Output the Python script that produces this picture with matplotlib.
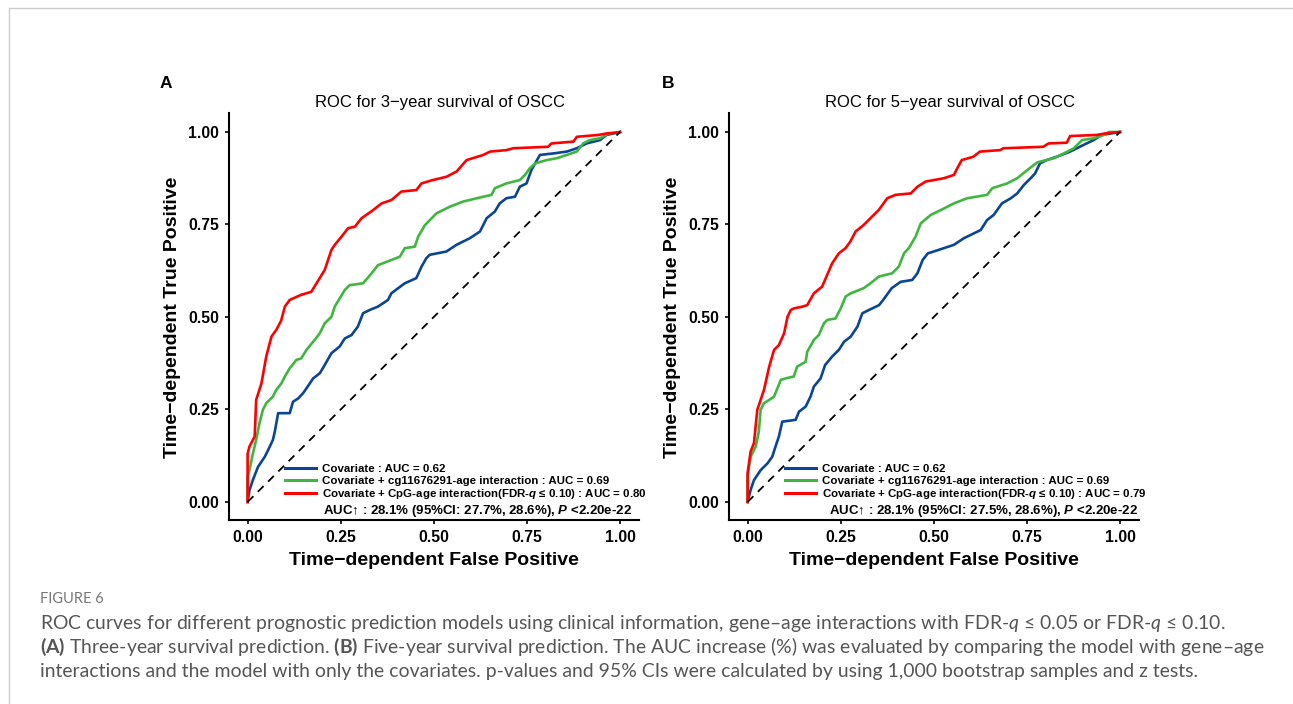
import numpy as np
import matplotlib
matplotlib.use("Agg")
import matplotlib.pyplot as plt
from matplotlib.lines import Line2D

plt.rcParams["font.family"] = ["Liberation Sans", "DejaVu Sans"]
plt.rcParams["mathtext.fontset"] = "custom"
plt.rcParams["mathtext.it"] = "Lato:italic"
plt.rcParams["mathtext.bf"] = "Lato:bold"
plt.rcParams["mathtext.bfit"] = "Liberation Sans:italic:bold"
plt.rcParams["mathtext.rm"] = "Lato"

# ---- 3-year ROC (panel A) ----
fpr_a_cov = [0, 0.005, 0.014, 0.028, 0.046, 0.055, 0.068, 0.073, 0.082, 0.113, 0.122, 0.136, 0.149, 0.158,
             0.176, 0.194, 0.207, 0.225, 0.247, 0.261, 0.279, 0.296, 0.31, 0.328, 0.35, 0.377, 0.386, 0.422,
             0.453, 0.467, 0.48, 0.489, 0.534, 0.561, 0.597, 0.624, 0.642, 0.664, 0.677, 0.695, 0.718, 0.731,
             0.749, 0.762, 0.772, 0.785, 0.821, 0.857, 0.884, 0.91, 0.946, 0.964, 1]
tpr_a_cov = [0, 0.032, 0.059, 0.095, 0.122, 0.14, 0.168, 0.19, 0.24, 0.24, 0.271, 0.28, 0.294, 0.307,
             0.334, 0.348, 0.37, 0.402, 0.42, 0.442, 0.451, 0.474, 0.51, 0.519, 0.528, 0.546, 0.564, 0.591,
             0.605, 0.636, 0.659, 0.668, 0.677, 0.695, 0.713, 0.731, 0.767, 0.785, 0.807, 0.821, 0.825, 0.852,
             0.861, 0.897, 0.915, 0.938, 0.942, 0.947, 0.956, 0.969, 0.978, 0.992, 1]

fpr_a_cg = [0, 0, 0.005, 0.014, 0.023, 0.032, 0.041, 0.05, 0.068, 0.077, 0.091, 0.1, 0.113, 0.131, 0.144,
            0.158, 0.18, 0.194, 0.207, 0.225, 0.234, 0.261, 0.274, 0.31, 0.333, 0.35, 0.386, 0.409, 0.422,
            0.449, 0.458, 0.476, 0.507, 0.543, 0.579, 0.624, 0.655, 0.664, 0.695, 0.731, 0.745, 0.758, 0.772,
            0.803, 0.83, 0.857, 0.884, 0.901, 0.919, 0.946, 0.969, 1]
tpr_a_cg = [0, 0.068, 0.086, 0.13, 0.168, 0.213, 0.249, 0.267, 0.285, 0.303, 0.321, 0.339, 0.361, 0.384, 0.388,
            0.411, 0.438, 0.456, 0.483, 0.5, 0.528, 0.573, 0.586, 0.591, 0.618, 0.64, 0.654, 0.663, 0.686,
            0.69, 0.717, 0.748, 0.78, 0.798, 0.812, 0.823, 0.83, 0.848, 0.861, 0.87, 0.884, 0.902, 0.915,
            0.924, 0.929, 0.938, 0.947, 0.969, 0.978, 0.983, 0.996, 1]

fpr_a_cpg = [0, 0, 0, 0.005, 0.019, 0.023, 0.037, 0.05, 0.064, 0.077, 0.09, 0.1, 0.113, 0.144, 0.171, 0.185,
             0.207, 0.225, 0.234, 0.252, 0.27, 0.288, 0.306, 0.332, 0.36, 0.386, 0.413, 0.453, 0.467, 0.497,
             0.534, 0.561, 0.588, 0.633, 0.651, 0.695, 0.713, 0.807, 0.816, 0.875, 0.884, 0.942, 0.964, 0.99, 1]
tpr_a_cpg = [0, 0.078, 0.13, 0.15, 0.177, 0.276, 0.32, 0.393, 0.447, 0.465, 0.49, 0.528, 0.546, 0.56, 0.568, 0.591,
             0.627, 0.681, 0.695, 0.717, 0.74, 0.744, 0.767, 0.785, 0.807, 0.816, 0.839, 0.843, 0.861, 0.87,
             0.879, 0.893, 0.924, 0.938, 0.947, 0.951, 0.956, 0.96, 0.969, 0.974, 0.987, 0.992, 0.996, 0.998, 1]

# ---- 5-year ROC (panel B) ----
fpr_b_cov = [0, 0.008, 0.017, 0.035, 0.053, 0.066, 0.075, 0.084, 0.093, 0.129, 0.138, 0.156, 0.169, 0.178,
             0.196, 0.208, 0.227, 0.245, 0.259, 0.277, 0.295, 0.308, 0.326, 0.353, 0.364, 0.387, 0.411, 0.442,
             0.456, 0.47, 0.484, 0.5, 0.554, 0.581, 0.626, 0.643, 0.661, 0.683, 0.707, 0.724, 0.742, 0.76,
             0.772, 0.785, 0.803, 0.83, 0.866, 0.902, 0.929, 0.951, 1]
tpr_b_cov = [0, 0.032, 0.059, 0.086, 0.104, 0.122, 0.15, 0.177, 0.217, 0.222, 0.244, 0.258, 0.285, 0.312,
             0.334, 0.37, 0.393, 0.411, 0.433, 0.447, 0.474, 0.51, 0.519, 0.532, 0.546, 0.578, 0.595, 0.6,
             0.618, 0.654, 0.672, 0.677, 0.695, 0.713, 0.735, 0.762, 0.776, 0.807, 0.821, 0.834, 0.857, 0.875,
             0.888, 0.915, 0.924, 0.933, 0.947, 0.965, 0.978, 0.992, 1]

fpr_b_cg = [0, 0, 0.008, 0.022, 0.03, 0.035, 0.044, 0.058, 0.071, 0.08, 0.089, 0.102, 0.124, 0.133, 0.156,
            0.16, 0.178, 0.191, 0.205, 0.214, 0.236, 0.25, 0.263, 0.277, 0.312, 0.33, 0.352, 0.388, 0.406,
            0.42, 0.433, 0.451, 0.465, 0.492, 0.519, 0.554, 0.59, 0.643, 0.657, 0.697, 0.724, 0.751, 0.778,
            0.822, 0.849, 0.876, 0.898, 0.929, 0.957, 0.971, 1]
tpr_b_cg = [0, 0.072, 0.122, 0.15, 0.19, 0.249, 0.267, 0.276, 0.285, 0.307, 0.33, 0.334, 0.339, 0.366, 0.379,
            0.406, 0.438, 0.451, 0.483, 0.492, 0.496, 0.523, 0.555, 0.564, 0.578, 0.591, 0.609, 0.618, 0.636,
            0.672, 0.686, 0.717, 0.753, 0.776, 0.789, 0.807, 0.821, 0.83, 0.848, 0.861, 0.875, 0.897, 0.918,
            0.929, 0.942, 0.956, 0.978, 0.983, 0.992, 1.0, 1]

fpr_b_cpg = [0, 0, 0.008, 0.017, 0.026, 0.035, 0.044, 0.058, 0.071, 0.084, 0.098, 0.107, 0.116, 0.124, 0.147,
             0.16, 0.178, 0.2, 0.227, 0.245, 0.263, 0.276, 0.29, 0.312, 0.33, 0.352, 0.375, 0.397, 0.438,
             0.456, 0.478, 0.527, 0.554, 0.563, 0.575, 0.606, 0.624, 0.678, 0.687, 0.794, 0.808, 0.857,
             0.866, 0.937, 0.96, 1]
tpr_b_cpg = [0, 0.078, 0.136, 0.159, 0.249, 0.276, 0.303, 0.366, 0.411, 0.424, 0.456, 0.5, 0.519, 0.523, 0.528,
             0.532, 0.564, 0.582, 0.645, 0.672, 0.686, 0.704, 0.731, 0.749, 0.767, 0.789, 0.821, 0.83, 0.834,
             0.852, 0.866, 0.875, 0.884, 0.902, 0.924, 0.933, 0.947, 0.951, 0.956, 0.96, 0.969, 0.971,
             0.989, 0.992, 0.996, 1]

ticks = [0, 0.25, 0.5, 0.75, 1.0]
tick_labels = ["0.00", "0.25", "0.50", "0.75", "1.00"]

BLUE = "#0b4595"
GREEN = "#3fb63f"
RED = "#ff0000"
MINUS = "\u2212"


def draw_roc(ax, curves, labels, title, auc_text, title_x, auc_x):
    for (fpr, tpr), color in zip(curves, [BLUE, GREEN, RED]):
        ax.plot(fpr, tpr, color=color, lw=1.9, solid_joinstyle="round")
    ax.plot([0, 1], [0, 1], color="black", lw=1.3, linestyle=(0, (4.5, 3.5)))

    ax.set_xlim(-0.05, 1.05)
    ax.set_ylim(-0.05, 1.05)
    ax.set_xticks(ticks)
    ax.set_xticklabels(tick_labels)
    ax.set_yticks(ticks)
    ax.set_yticklabels(tick_labels)
    for lab in ax.get_xticklabels() + ax.get_yticklabels():
        lab.set_fontweight("bold")
        lab.set_fontsize(11.3)
        lab.set_color("black")
    ax.tick_params(length=3, width=1.2, pad=4)

    for side in ["top", "right"]:
        ax.spines[side].set_visible(False)
    for side in ["left", "bottom"]:
        ax.spines[side].set_linewidth(1.5)

    ax.set_xlabel("Time" + MINUS + "dependent False Positive", fontsize=14, fontweight="bold", labelpad=5)
    ax.set_ylabel("Time" + MINUS + "dependent True Positive", fontsize=14, fontweight="bold", labelpad=5)
    ax.text(title_x, 1.028, title, transform=ax.transAxes, ha="center", va="center", fontsize=12)

    handles = [Line2D([], [], color=c, lw=2.2) for c in [BLUE, GREEN, RED]]
    ax.legend(handles, labels, loc="lower left", bbox_to_anchor=(0.137, 0.047), frameon=False,
              prop={"weight": "bold", "size": 8.25}, handlelength=2.7, handletextpad=0.55,
              labelspacing=0.13, borderpad=0, borderaxespad=0)
    ax.text(auc_x, 0.024, auc_text, transform=ax.transAxes, ha="left", va="center",
            fontsize=9.5, fontweight="bold")


fig = plt.figure(figsize=(12.93, 7.04), dpi=100)
ax_a = fig.add_axes([0.1771, 0.2607, 0.3168, 0.5781])
ax_b = fig.add_axes([0.5638, 0.2607, 0.3168, 0.5781])

draw_roc(
    ax_a,
    [(fpr_a_cov, tpr_a_cov), (fpr_a_cg, tpr_a_cg), (fpr_a_cpg, tpr_a_cpg)],
    ["Covariate : AUC = 0.62",
     "Covariate + cg11676291-age interaction : AUC = 0.69",
     r"Covariate + CpG-age interaction(FDR-$\mathbfit{q}$ ≤ 0.10) : AUC = 0.80"],
    "ROC for 3" + MINUS + "year survival of OSCC",
    r"AUC↑ : 28.1% (95%CI: 27.7%, 28.6%), $\mathbfit{P}$ <2.20e-22",
    0.515, 0.229,
)
draw_roc(
    ax_b,
    [(fpr_b_cov, tpr_b_cov), (fpr_b_cg, tpr_b_cg), (fpr_b_cpg, tpr_b_cpg)],
    ["Covariate : AUC = 0.62",
     "Covariate + cg11676291-age interaction : AUC = 0.69",
     r"Covariate + CpG-age interaction(FDR-$\mathbfit{q}$ ≤ 0.10) : AUC = 0.79"],
    "ROC for 5" + MINUS + "year survival of OSCC",
    r"AUC↑ : 28.1% (95%CI: 27.5%, 28.6%), $\mathbfit{P}$ <2.20e-22",
    0.54, 0.244,
)

fig.text(166 / 1293, 1 - 83 / 704, "A", ha="center", va="center", fontsize=12.5, fontweight="bold")
fig.text(668 / 1293, 1 - 83 / 704, "B", ha="center", va="center", fontsize=12.5, fontweight="bold")

# page frame
fig.add_artist(Line2D([9 / 1293, 1], [1 - 8 / 704, 1 - 8 / 704], color="#cccccc", lw=1))
fig.add_artist(Line2D([9 / 1293, 9 / 1293], [0, 1 - 8 / 704], color="#cccccc", lw=1))

# caption
cap_font = ["Lato", "DejaVu Sans"]
fig.text(40 / 1293, 1 - 599 / 704, "FIGURE 6", ha="left", va="center", fontsize=10.5, color="#777777",
         family=cap_font)
caption = [
    r"ROC curves for different prognostic prediction models using clinical information, gene–age interactions "
    r"with FDR-$\mathit{q}$ ≤ 0.05 or FDR-$\mathit{q}$ ≤ 0.10.",
    r"$\mathbf{(A)}$ Three-year survival prediction. $\mathbf{(B)}$ Five-year survival prediction. The AUC "
    r"increase (%) was evaluated by comparing the model with gene–age",
    "interactions and the model with only the covariates. p-values and 95% CIs were calculated by using "
    "1,000 bootstrap samples and z tests.",
]
for i, line in enumerate(caption):
    fig.text(40 / 1293, 1 - (623 + 24 * i) / 704, line, ha="left", va="center", fontsize=13.95,
             color="#555555", family=cap_font)

fig.savefig("out.png", dpi=100)
plt.close(fig)
